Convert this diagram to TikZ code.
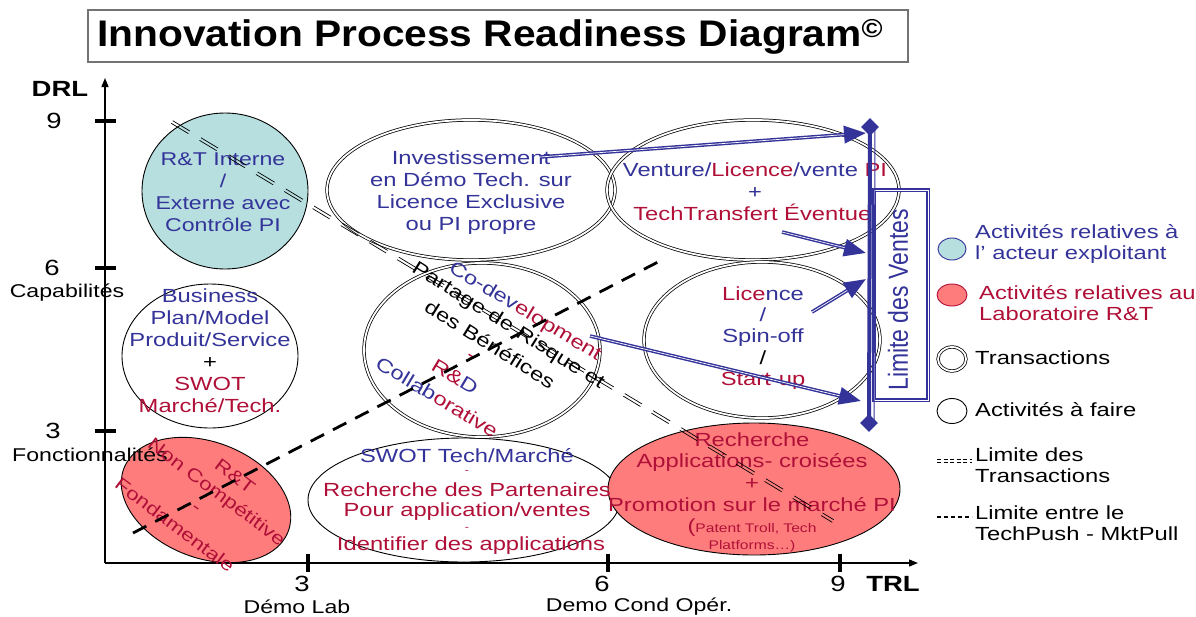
\documentclass[tikz,border=0pt]{standalone}
\usepackage{fontspec}
\setmainfont{Liberation Sans}[FakeStretch=1.25]
\newfontfamily\plainsans{Liberation Sans}
\newfontfamily\titlefont{Liberation Sans}[FakeStretch=1.1]
\usetikzlibrary{shapes.geometric,arrows.meta}

\definecolor{vblue}{RGB}{51,51,153}
\definecolor{tred}{RGB}{176,16,56}
\definecolor{tealfill}{RGB}{183,223,224}
\definecolor{redfill}{RGB}{255,124,124}

\tikzset{
  body/.style={font=\fontsize{19}{22}\selectfont, align=center, inner sep=0pt},
  legtext/.style={font=\fontsize{19}{21}\selectfont, align=left, anchor=west, inner sep=0pt},
  axlabel/.style={font=\fontsize{18.5}{20}\selectfont, inner sep=0pt},
  axnum/.style={font=\fontsize{22}{24}\selectfont, inner sep=0pt},
  axname/.style={font=\bfseries\fontsize{22}{24}\selectfont, inner sep=0pt},
  act/.style={ellipse, draw, line width=0.9pt, inner sep=0pt},
  trans/.style={ellipse, draw, double, double distance=1.8pt, line width=0.75pt, inner sep=0pt},
  axis/.style={line width=1.3pt, -{Triangle[length=9pt,width=7pt]}},
  tick/.style={line width=3.5pt},
  limtrans/.style={line width=0.7pt, dash pattern=on 20pt off 13pt},
  pushpull/.style={line width=2.8pt, dash pattern=on 15pt off 10pt},
  ventarrow/.style={vblue, line width=3.6pt, -{Triangle[length=22pt,width=17pt]},
    postaction={draw=white, line width=0.7pt, shorten >=22pt, arrows=-}},
  tip/.style={diamond, fill=vblue, minimum size=18pt, inner sep=0pt},
}

\begin{document}
\begin{tikzpicture}[x=1pt,y=-1pt]
\useasboundingbox (0,0) rectangle (1196,616);

% title banner
\node[draw=black!55, line width=1.3pt, minimum width=820pt, minimum height=52pt, inner sep=0pt] (titlebox) at (498,36) {};
\node[anchor=west, inner sep=0pt, font=\titlefont\bfseries\fontsize{37}{40}\selectfont] (title) at (97,37)
  {Innovation Process Readiness Diagram\textsuperscript{©}};

% activities (single outline)
\node[act, fill=tealfill, minimum width=166pt, minimum height=156pt] (rti) at (225,191) {};
\node[act, minimum width=176pt, minimum height=144pt] (bp) at (210,356) {};
\node[act, fill=redfill, minimum width=176pt, minimum height=116pt, rotate=-21] (rtf) at (206,500) {};
\node[act, minimum width=312pt, minimum height=124pt] (swot) at (464,500) {};
\node[act, fill=redfill, minimum width=292pt, minimum height=132pt] (rech) at (754,489) {};

% transactions (double outline)
\node[trans, minimum width=288pt, minimum height=140pt] (inv) at (471,190) {};
\node[trans, minimum width=292pt, minimum height=140pt] (vent) at (753,190) {};
\node[trans, minimum width=236pt, minimum height=174pt] (codev) at (482,350) {};
\node[trans, minimum width=236pt, minimum height=156pt] (lic) at (762,340) {};

% axes
\coordinate (O) at (105,563);
\coordinate (yend) at (105,78);
\coordinate (xend) at (918,563);
\draw[axis] (O) -- (yend);
\draw[axis] (O) -- (xend);
\coordinate (y9) at (105,121);
\coordinate (y6) at (105,268);
\coordinate (y3) at (105,431);
\coordinate (x3) at (308,563);
\coordinate (x6) at (608,563);
\coordinate (x9) at (840,563);
\foreach \t in {y9,y6,y3} \draw[tick] ([xshift=-10pt]\t) -- ([xshift=11pt]\t);
\foreach \t in {x3,x6,x9} \draw[tick] ([yshift=9pt]\t) -- ([yshift=-9pt]\t);

\node[axname] (drl) at (60,89) {DRL};
\node[axnum] (n9) at (54,121) {9};
\node[axnum] (n6) at (52,268) {6};
\node[axnum] (n3) at (53,431) {3};
\node[axlabel] (cap) at (67,293) {Capabilités};
\node[axlabel] (fonc) at (90,455) {Fonctionnalités};
\node[axnum] (m3) at (302,584) {3};
\node[axnum] (m6) at (602,584) {6};
\node[axnum] (m9) at (838,584) {9};
\node[axname] (trl) at (893,584) {TRL};
\node[axlabel] (demolab) at (297,607) {Démo Lab};
\node[axlabel] (democond) at (639,607) {Demo Cond Opér.};

% texts of the activities
\node[body, text=vblue, font=\fontsize{18.5}{22}\selectfont] (rti-t) at (223,192) {R\&T Interne\\/\\Externe avec\\Contrôle PI};
\node[body] (bp-t) at (210,351) {\textcolor{vblue}{Business}\\\textcolor{vblue}{Plan/Model}\\\textcolor{vblue}{Produit/Service}\\+\\\textcolor{tred}{SWOT}\\\textcolor{tred}{Marché/Tech.}};
\node[body, text=vblue] (inv-t) at (471,193) {Investissement\\en Démo Tech. sur\\Licence Exclusive\\ou PI propre};
\node[body] (vent-t) at (755,192) {\textcolor{vblue}{Venture/}\textcolor{tred}{Licence}\textcolor{vblue}{/vente} \textcolor{tred}{PI}\\\textcolor{vblue}{+}\\\textcolor{tred}{TechTransfert Éventuel}};
\node[body, font=\fontsize{19}{21.3}\selectfont] (lic-t) at (763,338) {\textcolor{tred}{Lice}\textcolor{vblue}{nce}\\\textcolor{vblue}{/}\\\textcolor{vblue}{Spin-off}\\/\\\textcolor{tred}{Start-up}};

% co-development, rotated lines
\node[body, rotate=-31] (cd1) at (525,312) {\textcolor{vblue}{Co-dev}\textcolor{tred}{elopment}};
\node[body, rotate=-32] (cd2) at (508,326) {Partage de Risque et};
\node[body, rotate=-32] (cd3) at (490,344) {des Bénéfices};
\node[body, rotate=-31, text=tred] (cd4) at (470,358) {-};
\node[body, rotate=-31] (cd5) at (455,377) {\textcolor{tred}{R\&}\textcolor{vblue}{D}};
\node[body, rotate=-31] (cd6) at (437,397) {\textcolor{vblue}{Collab}\textcolor{tred}{orative}};

% R&T fondamentale, rotated lines
\node[body, rotate=-37, text=tred, font=\fontsize{18}{20}\selectfont] (rt1) at (235,476) {R\&T};
\node[body, rotate=-37, text=tred, font=\fontsize{18}{20}\selectfont] (rt2) at (216,493) {Non Compétitive};
\node[body, rotate=-37, text=tred, font=\fontsize{18}{20}\selectfont] (rt3) at (195,510) {-};
\node[body, rotate=-37, text=tred, font=\fontsize{18}{20}\selectfont] (rt4) at (175,525) {Fondamentale};

% SWOT / partenaires
\node[body, text=vblue] (sw1) at (467,456) {SWOT Tech/Marché};
\node[body, text=tred, font=\fontsize{10}{10}\selectfont] (sw2) at (467,472) {-};
\node[body, text=tred] (sw3) at (467,490) {Recherche des Partenaires};
\node[body, text=tred] (sw4) at (467,512) {Pour application/ventes};
\node[body, text=tred, font=\fontsize{10}{10}\selectfont] (sw5) at (467,529) {-};
\node[body, text=tred] (sw6) at (471,546) {Identifier des applications};

% recherche applications croisees
\node[body, text=tred, font=\fontsize{19}{21.7}\selectfont] (rech-t) at (752,472) {Recherche\\Applications- croisées\\+\\Promotion sur le marché PI};
\node[body, text=tred] (rech-s1) at (752,528) {{\fontsize{19}{19}\selectfont(}{\fontsize{12.5}{14}\selectfont Patent Troll, Tech}};
\node[body, text=tred, font=\fontsize{12.5}{14}\selectfont] (rech-s2) at (752,546) {Platforms…)};

% limit of transactions (double dashed) and techpush / mktpull limit
\coordinate (lt-a) at (172,122);
\coordinate (lt-b) at (833,521);
\draw[limtrans, transform canvas={shift={(0.78pt,1.28pt)}}] (lt-a) -- (lt-b);
\draw[limtrans, transform canvas={shift={(-0.78pt,-1.28pt)}}] (lt-a) -- (lt-b);
\coordinate (tp-a) at (133,533);
\coordinate (tp-b) at (658,262);
\draw[pushpull] (tp-a) -- (tp-b);

% sales limit
\node[draw=vblue, double, double distance=1pt, line width=1.3pt, minimum width=54pt, minimum height=210pt, inner sep=0pt] (vbox) at (901,295) {};
\node[rotate=90, text=vblue, inner sep=0pt] (vbox-t) at (898,300) {\scalebox{1}[1.2]{\plainsans\fontsize{23}{23}\selectfont Limite des Ventes}};
\node[tip] (dtop) at (870,127) {};
\node[tip] (dbot) at (869,423) {};
\draw[vblue, line width=1pt] ([xshift=5pt]dtop.center) -- ([xshift=5pt]dbot.center);
\draw[vblue, line width=4pt] (dtop.center) -- (dbot.center);

% arrows towards the sales limit
\coordinate (a1s) at (540,157);
\coordinate (a1e) at (866,133);
\coordinate (a2s) at (782,232);
\coordinate (a2e) at (866,253);
\coordinate (a3s) at (812,312);
\coordinate (a3e) at (866,279);
\coordinate (a4s) at (590,336);
\coordinate (a4e) at (861,401);
\draw[ventarrow] (a1s) -- (a1e);
\draw[ventarrow] (a2s) -- (a2e);
\draw[ventarrow] (a3s) -- (a3e);
\draw[ventarrow] (a4s) -- (a4e);

% legend
\node[ellipse, draw=vblue, fill=tealfill, line width=0.9pt, minimum width=28pt, minimum height=22pt, inner sep=0pt] (lg1) at (952,249) {};
\node[ellipse, draw=tred, fill=redfill, line width=0.9pt, minimum width=30pt, minimum height=22pt, inner sep=0pt] (lg2) at (952,295) {};
\node[trans, minimum width=28pt, minimum height=24pt] (lg3) at (952,359) {};
\node[act, minimum width=30pt, minimum height=25pt] (lg4) at (952,411) {};
\coordinate (lg5a) at (937,461);
\coordinate (lg5b) at (972,461);
\draw[line width=0.6pt, dash pattern=on 4pt off 2.5pt] ([yshift=1.5pt]lg5a) -- ([yshift=1.5pt]lg5b);
\draw[line width=0.6pt, dash pattern=on 4pt off 2.5pt] ([yshift=-1.5pt]lg5a) -- ([yshift=-1.5pt]lg5b);
\coordinate (lg6a) at (937,517);
\coordinate (lg6b) at (972,517);
\draw[line width=2.5pt, dash pattern=on 4pt off 3pt] (lg6a) -- (lg6b);

\node[legtext, text=vblue] (lt1) at (975,244) {Activités relatives à\\l’ acteur exploitant};
\node[legtext, text=tred] (lt2) at (979,303) {Activités relatives au\\Laboratoire R\&T};
\node[legtext] (lt3) at (975,358) {Transactions};
\node[legtext] (lt4) at (975,410) {Activités à faire};
\node[legtext] (lt5) at (975,465) {Limite des\\Transactions};
\node[legtext] (lt6) at (975,523) {Limite entre le\\TechPush - MktPull};
\end{tikzpicture}
\end{document}
